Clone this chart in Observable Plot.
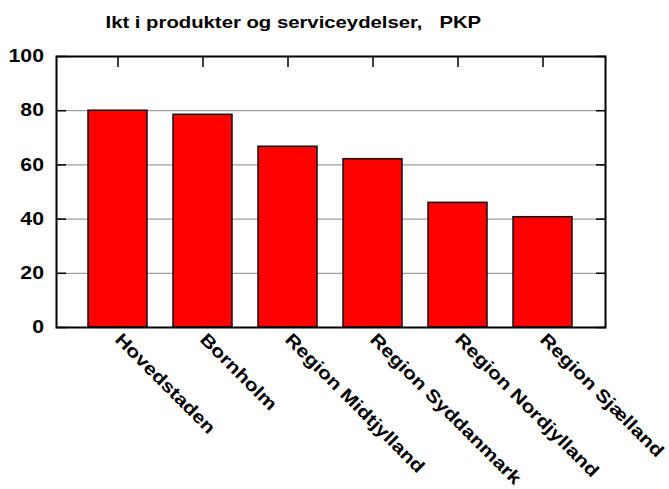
<!DOCTYPE html>
<html>
<head>
<meta charset="utf-8">
<script src="https://cdn.jsdelivr.net/npm/d3@7"></script>
<script src="https://cdn.jsdelivr.net/npm/@observablehq/plot@0.6"></script>
<style>
  html, body { margin: 0; padding: 0; background: #fff; }
</style>
</head>
<body>
<div id="chart"></div>
<script>
const title = "Ikt i produkter og serviceydelser,   PKP";
const categories = ["Hovedstaden", "Bornholm", "Region Midtjylland", "Region Syddanmark", "Region Nordjylland", "Region Sjælland"];
const values = [80, 78.5, 66.7, 62.1, 46.0, 40.7];
const yTicks = [0, 20, 40, 60, 80, 100];
const gridTicks = [20, 40, 60, 80];

const data = categories.map((c, i) => ({category: c, value: values[i]}));

const chart = Plot.plot({
  width: 669,
  height: 489,
  marginLeft: 56,
  marginRight: 64,
  marginTop: 56,
  marginBottom: 162,
  style: {fontFamily: "'Liberation Sans', Arial, sans-serif", fontSize: "17.7px", fontWeight: "bold", color: "#000", background: "#fff", whiteSpace: "pre"},
  x: {type: "band", domain: categories, paddingInner: 0.302, paddingOuter: 0.343, label: null},
  y: {domain: [0, 100], label: null},
  marks: [
    Plot.ruleY(gridTicks, {stroke: "#a0a0a0", strokeWidth: 1.2}),
    Plot.axisY({ticks: yTicks, tickSize: 0, tickPadding: 12.5, label: null, fontSize: 17.7, fontWeight: "bold"}),
    Plot.axisY({ticks: yTicks, anchor: "left", tickSize: -10, tickFormat: () => "", label: null, stroke: "#000", strokeWidth: 1.5}),
    Plot.axisY({ticks: yTicks, anchor: "right", tickSize: -10, tickFormat: () => "", label: null, stroke: "#000", strokeWidth: 1.5}),
    Plot.axisX({anchor: "top", tickSize: -10, tickFormat: () => "", label: null, stroke: "#000", strokeWidth: 1.5}),
    Plot.barY(data, {x: "category", y: "value", fill: "#ff0000", stroke: "#111", strokeWidth: 1.5}),
    Plot.text(categories, {x: d => d, frameAnchor: "bottom", dy: 9, rotate: 45, textAnchor: "start", lineAnchor: "middle", fontSize: 17.7, fontWeight: "bold", fill: "#000"}),
    Plot.text([title], {text: d => d, frameAnchor: "top-left", textAnchor: "start", lineAnchor: "bottom", dx: 49, dy: -29, fontSize: 16, fontWeight: "bold", fill: "#000"}),
    Plot.frame({stroke: "#000", strokeWidth: 2})
  ]
});

// widen glyphs along the text baseline to match the reference's wide bold face
chart.querySelectorAll("text").forEach(t => {
  if (!t.textContent) return;
  const sx = t.textContent === title ? 1.27 : 1.2;
  const tr = t.getAttribute("transform") || "";
  t.setAttribute("transform", `${tr} scale(${sx},1)`.trim());
});

document.getElementById("chart").appendChild(chart);
</script>
</body>
</html>
